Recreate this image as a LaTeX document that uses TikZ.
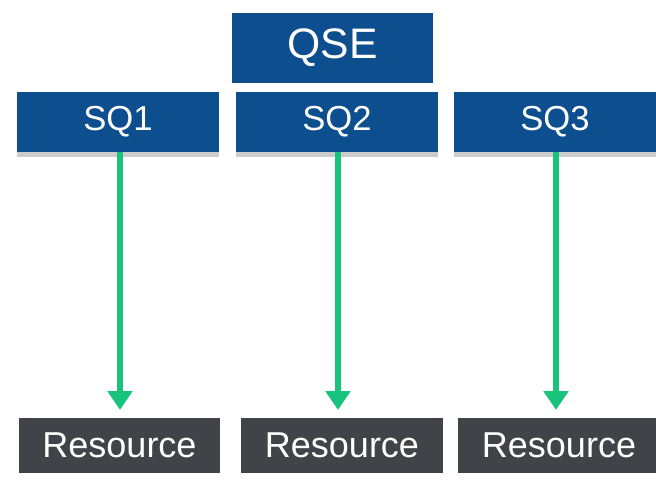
\documentclass[tikz,border=0pt]{standalone}
\usepackage{fontspec}
\setmainfont{Liberation Sans}
\usetikzlibrary{positioning,arrows.meta,shadows}

\definecolor{qblue}{RGB}{12,78,142}
\definecolor{resgray}{RGB}{64,67,71}
\definecolor{flowgreen}{RGB}{24,196,124}

\begin{document}
\begin{tikzpicture}[x=0.75pt,y=-0.75pt,
  box/.style={fill=qblue,text=white,inner sep=0pt,minimum width=151.5pt,minimum height=45pt,font=\fontsize{26}{26}\selectfont},
  sqbox/.style={box,drop shadow={shadow xshift=0pt,shadow yshift=-4pt,opacity=0.2,fill=black}},
  resbox/.style={box,fill=resgray,minimum width=151pt,minimum height=41pt,font=\fontsize{27}{27}\selectfont},
  flow/.style={flowgreen,line width=4.5pt,-{Triangle[length=14pt,width=18pt]},shorten >=6pt}]
\useasboundingbox (0,0) rectangle (656,479);
% top node
\node[box,minimum width=150.75pt,minimum height=52.5pt,font=\fontsize{32}{32}\selectfont] (qse) at (332.5,48) {QSE};
% second row
\node[sqbox] (sq1) at (118,122) {SQ1};
\node[sqbox] (sq2) at (337,122) {SQ2};
\node[sqbox] (sq3) at (555,122) {SQ3};
% resources
\node[resbox] (res1) at (119.5,445.5) {Resource};
\node[resbox] (res2) at (342,445.5) {Resource};
\node[resbox] (res3) at (559,445.5) {Resource};
% arrows
\draw[flow] ([xshift=1.5pt]sq1.south) -- ([xshift=1.5pt]sq1.south |- res1.north);
\draw[flow] ([xshift=0.75pt]sq2.south) -- ([xshift=0.75pt]sq2.south |- res2.north);
\draw[flow] ([xshift=0.75pt]sq3.south) -- ([xshift=0.75pt]sq3.south |- res3.north);
\end{tikzpicture}
\end{document}
